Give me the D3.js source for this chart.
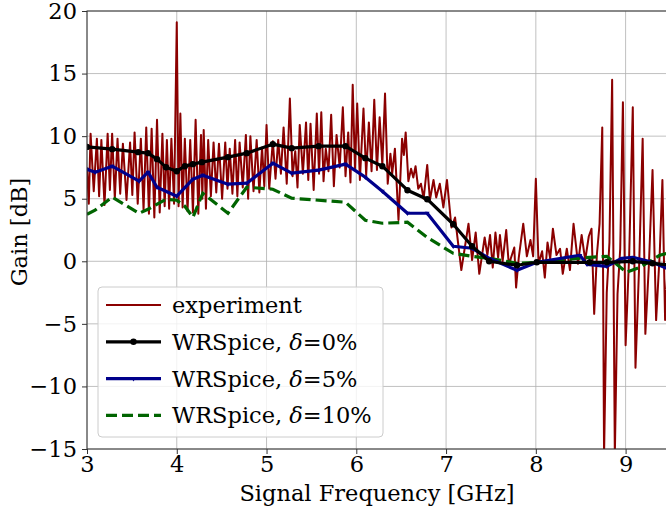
<!DOCTYPE html>
<meta charset="utf-8">
<style>
  body { margin: 0; background: #fff; }
  text { font-family: "DejaVu Serif", serif; }
</style>
<body>
<script src="https://d3js.org/d3.v7.min.js"></script>
<div id="chart"></div>
<script>

const experiment = [
  [3.00, 7.5], [3.02, 4.6], [3.04, 10.2], [3.075, 5.6], [3.11, 9.8], [3.135, 5.2],
  [3.16, 9.7], [3.195, 4.5], [3.23, 10.2], [3.255, 5.7], [3.28, 10.2], [3.31, 5.0],
  [3.34, 9.8], [3.37, 5.4], [3.40, 9.4], [3.44, 4.9], [3.48, 9.5], [3.505, 5.3],
  [3.53, 10.3], [3.565, 4.6], [3.60, 9.8], [3.63, 4.1], [3.66, 10.7], [3.69, 3.8],
  [3.72, 10.6], [3.75, 3.5], [3.78, 11.3], [3.81, 3.9], [3.84, 10.2], [3.865, 4.4],
  [3.89, 9.7], [3.915, 4.2], [3.94, 9.8], [3.97, 4.6], [4.00, 19.1], [4.02, 4.4],
  [4.04, 11.8], [4.065, 4.3], [4.09, 9.8], [4.12, 4.0], [4.15, 9.7], [4.18, 3.9],
  [4.21, 11.3], [4.24, 3.8], [4.27, 10.1], [4.285, 5.0], [4.30, 10.5], [4.325, 4.2],
  [4.35, 9.7], [4.38, 5.2], [4.41, 9.5], [4.44, 5.5], [4.47, 9.4], [4.505, 5.0],
  [4.54, 9.5], [4.565, 5.8], [4.59, 9.0], [4.62, 5.4], [4.65, 9.7], [4.675, 5.2],
  [4.70, 9.5], [4.735, 5.9], [4.77, 10.1], [4.795, 5.0], [4.82, 10.0], [4.855, 5.6],
  [4.89, 9.7], [4.92, 5.5], [4.95, 9.1], [4.975, 6.0], [5.00, 10.9], [5.03, 5.8],
  [5.07, 9.6], [5.10, 6.6], [5.13, 9.7], [5.16, 7.0], [5.19, 10.7], [5.225, 6.2],
  [5.26, 13.0], [5.29, 6.8], [5.32, 8.8], [5.345, 5.9], [5.37, 10.9], [5.405, 7.0],
  [5.44, 11.1], [5.465, 6.5], [5.49, 11.0], [5.525, 5.7], [5.56, 11.8], [5.585, 7.0],
  [5.61, 11.9], [5.635, 6.4], [5.66, 9.0], [5.69, 7.2], [5.72, 11.7], [5.75, 6.0],
  [5.78, 10.1], [5.815, 7.5], [5.85, 12.3], [5.88, 6.8], [5.91, 10.3], [5.935, 6.3],
  [5.96, 14.1], [5.985, 7.4], [6.01, 12.6], [6.04, 6.5], [6.08, 12.2], [6.11, 6.9],
  [6.14, 11.1], [6.17, 7.2], [6.20, 12.9], [6.23, 7.3], [6.26, 11.5], [6.29, 7.7],
  [6.32, 13.4], [6.35, 6.2], [6.38, 8.6], [6.40, 7.0], [6.43, 9.0], [6.47, 3.3],
  [6.51, 9.8], [6.53, 8.5], [6.55, 10.3], [6.58, 6.4], [6.61, 7.4], [6.635, 6.7],
  [6.66, 7.6], [6.69, 5.8], [6.72, 6.2], [6.75, 5.0], [6.79, 7.7], [6.82, 4.9],
  [6.86, 6.5], [6.89, 5.1], [6.93, 6.2], [6.97, 4.3], [7.01, 6.5], [7.06, 2.7],
  [7.10, 3.5], [7.17, -0.7], [7.25, 3.0], [7.29, 0.1], [7.33, 2.3], [7.37, -1.0],
  [7.43, 1.9], [7.46, 0.5], [7.49, 2.1], [7.52, -0.5], [7.55, 2.3], [7.58, 0.3],
  [7.60, 2.1], [7.63, 0.0], [7.67, 2.5], [7.70, -0.4], [7.72, 0.2], [7.76, 1.1],
  [7.78, -2.1], [7.81, 0.3], [7.86, 3.0], [7.90, 0.4], [7.94, 1.7], [7.97, 0.4],
  [8.00, 6.6], [8.03, -0.2], [8.07, 0.8], [8.10, -1.3], [8.13, 1.5], [8.16, 0.2],
  [8.19, 2.6], [8.23, 0.5], [8.27, 1.0], [8.30, -1.0], [8.345, 1.0], [8.38, -0.7],
  [8.42, 3.0], [8.47, -0.2], [8.51, 2.1], [8.55, 0.1], [8.59, 2.0], [8.62, 2.6],
  [8.65, -4.2], [8.68, 0.5], [8.71, 3.0], [8.74, 10.7], [8.76, -15.5], [8.79, -2.5],
  [8.82, 1.5], [8.85, 14.5], [8.88, -15.5], [8.91, -2.6], [8.94, 1.0], [8.97, 12.7],
  [9.00, -6.7], [9.04, 0.5], [9.08, 12.3], [9.11, -8.5], [9.15, -0.5], [9.19, 9.8],
  [9.22, -5.8], [9.26, -0.2], [9.30, 7.3], [9.34, -4.7], [9.38, 0.6], [9.41, 6.5],
  [9.44, -4.7], [9.47, 0.0]
];

// WRSpice, delta = 0%
const freq0 = [3.0, 3.28, 3.57, 3.68, 3.78, 3.88, 4.0, 4.09, 4.18, 4.28, 4.57, 4.78, 5.07, 5.28, 5.58,
  5.88, 6.10, 6.29, 6.57, 6.79, 7.08, 7.29, 7.48, 7.79, 8.01, 8.6, 8.79, 9.08, 9.3, 9.5];
const gain0 = [9.14, 8.96, 8.72, 8.64, 8.16, 7.52, 7.2, 7.6, 7.76, 7.92, 8.32, 8.64, 9.36, 9.04, 9.2,
  9.2, 8.24, 7.6, 5.68, 4.96, 2.96, 1.2, 0, -0.32, -0.08, -0.08, -0.08, 0, -0.16, -0.3];

// WRSpice, delta = 5%
const freq5 = [3.0, 3.09, 3.28, 3.58, 3.68, 3.78, 4.0, 4.18, 4.29, 4.57, 4.78, 5.07, 5.28, 5.58, 5.88,
  6.10, 6.29, 6.57, 6.79, 7.08, 7.29, 7.48, 7.79, 8.01, 8.49, 8.57, 8.79, 8.96, 9.08, 9.3, 9.5];
const gain5 = [7.36, 7.12, 7.6, 6.4, 7.12, 5.92, 5.2, 6.56, 6.88, 6.16, 6.24, 7.84, 7.04, 7.28, 7.76,
  6.72, 5.6, 3.84, 3.84, 1.2, 1.04, 0.24, -0.72, -0.08, 0.48, -0.24, -0.4, 0.24, 0.32, -0.08, -0.7];

// WRSpice, delta = 10%
const freq10 = [3.0, 3.09, 3.28, 3.58, 3.68, 3.88, 4.0, 4.09, 4.18, 4.29, 4.57, 4.78, 5.07, 5.28, 5.88,
  6.10, 6.29, 6.57, 6.79, 7.08, 7.29, 7.48, 7.79, 8.01, 8.6, 8.79, 9.01, 9.16, 9.38, 9.5];
const gain10 = [3.76, 4.08, 5.12, 3.84, 4.16, 4.96, 4.88, 4.4, 3.52, 5.44, 3.84, 5.92, 5.76, 5.04, 4.72,
  3.28, 3.04, 3.12, 1.9, 0.64, 0.4, 0.24, -0.16, -0.08, 0.32, 0.4, -0.88, -0.48, 0.48, 0.7];

const xTicks = [3, 4, 5, 6, 7, 8, 9];
const yTicks = [-15, -10, -5, 0, 5, 10, 15, 20];

const W = 666, H = 507;
const margin = {top: 11, right: 0, bottom: 58, left: 87};
const width = W - margin.left - margin.right,
      height = H - margin.top - margin.bottom;
const fs = 22.5;

const svg = d3.select("#chart").append("svg")
  .attr("width", W).attr("height", H);

const g = svg.append("g")
  .attr("transform", `translate(${margin.left},${margin.top})`);

const x = d3.scaleLinear().domain([3, 9.45]).range([0, width]);
const y = d3.scaleLinear().domain([-15, 20]).range([height, 0]);

// grid
g.append("g").selectAll("line").data(xTicks).join("line")
  .attr("x1", d => x(d)).attr("x2", d => x(d))
  .attr("y1", 0).attr("y2", height)
  .attr("stroke", "#b0b0b0").attr("stroke-width", 0.8);
g.append("g").selectAll("line").data(yTicks).join("line")
  .attr("x1", 0).attr("x2", width)
  .attr("y1", d => y(d)).attr("y2", d => y(d))
  .attr("stroke", "#b0b0b0").attr("stroke-width", 0.8);

g.append("clipPath").attr("id", "clip")
  .append("rect").attr("width", width).attr("height", height);

const plot = g.append("g").attr("clip-path", "url(#clip)");

const line = d3.line().x(d => x(d[0])).y(d => y(d[1]));

plot.append("path").datum(experiment)
  .attr("d", line)
  .attr("fill", "none").attr("stroke", "#8b0000").attr("stroke-width", 2)
  .attr("stroke-linejoin", "round");

const sim0 = freq0.map((f, i) => [f, gain0[i]]);
const sim5 = freq5.map((f, i) => [f, gain5[i]]);
const sim10 = freq10.map((f, i) => [f, gain10[i]]);

plot.append("path").datum(sim10)
  .attr("d", line)
  .attr("fill", "none").attr("stroke", "#006400").attr("stroke-width", 3.2)
  .attr("stroke-dasharray", "11,5");

plot.append("path").datum(sim5)
  .attr("d", line)
  .attr("fill", "none").attr("stroke", "#00008b").attr("stroke-width", 3.2)
  .attr("stroke-linejoin", "round");
plot.append("g").selectAll("path").data(sim5).join("path")
  .attr("transform", d => `translate(${x(d[0])},${y(d[1])}) rotate(180)`)
  .attr("d", d3.symbol(d3.symbolTriangle, 10))
  .attr("fill", "#00008b");

plot.append("path").datum(sim0)
  .attr("d", line)
  .attr("fill", "none").attr("stroke", "black").attr("stroke-width", 3.2)
  .attr("stroke-linejoin", "round");
plot.append("g").selectAll("circle").data(sim0).join("circle")
  .attr("cx", d => x(d[0])).attr("cy", d => y(d[1]))
  .attr("r", 3.2).attr("fill", "black");

// axes
const fmt = d => d < 0 ? "\u2212" + Math.abs(d) : d;
const xAxis = g.append("g").attr("transform", `translate(0,${height})`)
  .call(d3.axisBottom(x).tickValues(xTicks).tickSize(5).tickPadding(2).tickFormat(fmt));
const yAxis = g.append("g")
  .call(d3.axisLeft(y).tickValues(yTicks).tickSize(5).tickPadding(5).tickFormat(fmt));
[xAxis, yAxis].forEach(a => {
  a.select(".domain").remove();
  a.selectAll("text").attr("font-family", "DejaVu Serif").attr("font-size", fs).attr("fill", "black");
  a.selectAll("line").attr("stroke", "#333");
});

// frame
g.append("rect").attr("width", width + 2).attr("height", height)
  .attr("fill", "none").attr("stroke", "#333").attr("stroke-width", 1);

svg.append("text")
  .attr("x", margin.left + 290).attr("y", H - 6)
  .attr("text-anchor", "middle").attr("font-size", fs)
  .text("Signal Frequency [GHz]");

svg.append("text")
  .attr("transform", `translate(27,${margin.top + height / 2 + 2}) rotate(-90)`)
  .attr("text-anchor", "middle").attr("font-size", fs)
  .text("Gain [dB]");

// legend
const lg = svg.append("g").attr("transform", "translate(98,287)");
lg.append("rect").attr("width", 285).attr("height", 150).attr("rx", 4)
  .attr("fill", "white").attr("fill-opacity", 0.8)
  .attr("stroke", "#cccccc").attr("stroke-width", 1);

const legendItems = [
  {label: "experiment", color: "#8b0000", w: 2, dash: null, delta: null},
  {label: "WRSpice, ", color: "black", w: 3.2, dash: null, delta: "0%", marker: "circle"},
  {label: "WRSpice, ", color: "#00008b", w: 3.2, dash: null, delta: "5%", marker: "tri"},
  {label: "WRSpice, ", color: "#006400", w: 3.2, dash: "11,5", delta: "10%"}
];
legendItems.forEach((it, i) => {
  const cy = 18 + i * 36.8;
  lg.append("line").attr("x1", 8).attr("x2", 63).attr("y1", cy).attr("y2", cy)
    .attr("stroke", it.color).attr("stroke-width", it.w)
    .attr("stroke-dasharray", it.dash);
  if (it.marker === "circle")
    lg.append("circle").attr("cx", 35.5).attr("cy", cy).attr("r", 3.2).attr("fill", it.color);
  if (it.marker === "tri")
    lg.append("path").attr("transform", `translate(35.5,${cy}) rotate(180)`)
      .attr("d", d3.symbol(d3.symbolTriangle, 10)).attr("fill", it.color);
  const t = lg.append("text").attr("x", 74).attr("y", cy + 8).attr("font-size", fs);
  t.append("tspan").text(it.label);
  if (it.delta) {
    t.append("tspan").attr("font-style", "italic").text("\u03b4");
    t.append("tspan").text("=" + it.delta);
  }
});

</script>
</body>
